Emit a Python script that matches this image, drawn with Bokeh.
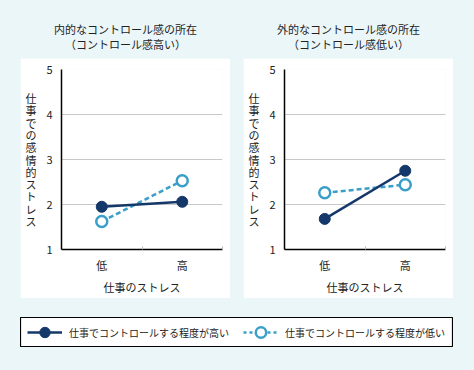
from bokeh.plotting import figure
from bokeh.layouts import column, row
from bokeh.models import (Spacer, Range1d, FixedTicker, Legend, LegendItem,
                          ColumnDataSource, Label)
from bokeh.embed import file_html
from bokeh.resources import INLINE

# ---- data ----
categories = ["低", "高"]
title_internal = ["内的なコントロール感の所在", "（コントロール感高い）"]
title_external = ["外的なコントロール感の所在", "（コントロール感低い）"]
internal_high_control = [1.95, 2.06]
internal_low_control = [1.62, 2.53]
external_high_control = [1.68, 2.75]
external_low_control = [2.26, 2.44]
y_ticks = [1, 2, 3, 4, 5]
series_names = ["仕事でコントロールする程度が高い", "仕事でコントロールする程度が低い"]
y_label = "仕事での感情的ストレス"
x_label = "仕事のストレス"

NAVY = "#15386A"
LIGHT = "#3A9FC8"
BG = "#EBF6F9"
FONT = "Noto Sans CJK JP"
TEXT = "#222222"


def title_fig(lines):
    t = figure(width=210, height=58, x_range=Range1d(0, 210), y_range=Range1d(58, 0),
               output_backend="svg", toolbar_location=None, min_border=0,
               border_fill_color=BG, background_fill_color=BG, outline_line_color=None)
    t.axis.visible = False
    t.grid.visible = False
    for i, ln in enumerate(lines):
        t.add_layout(Label(x=105, y=28 + 15 * i, text=ln, text_align="center",
                           text_baseline="middle", text_font=FONT,
                           text_font_size="11px", text_color=TEXT))
    return t


def panel(hi, lo):
    n = len(categories)
    xs = [2 * i + 1 for i in range(n)]
    p = figure(width=210, height=240, x_range=Range1d(0, 2 * n), y_range=Range1d(1, 5),
               output_backend="svg", toolbar_location=None,
               min_border_left=41, min_border_right=8, min_border_top=11, min_border_bottom=49,
               border_fill_color="white", background_fill_color="white",
               outline_line_color=None)
    p.xgrid.visible = False
    p.ygrid.ticker = FixedTicker(ticks=y_ticks[1:])
    p.ygrid.grid_line_color = "#C8C8C8"
    p.ygrid.grid_line_width = 1

    p.yaxis.ticker = FixedTicker(ticks=y_ticks)
    p.yaxis.major_tick_in = 0
    p.yaxis.major_tick_out = 0
    p.yaxis.minor_tick_in = 0
    p.yaxis.minor_tick_out = 0
    p.yaxis.major_label_standoff = 9
    p.yaxis.axis_label = "\n".join(y_label)
    p.yaxis.axis_label_orientation = "horizontal"
    p.yaxis.axis_label_standoff = 7

    p.xaxis.ticker = FixedTicker(ticks=xs, minor_ticks=[2 * i + 2 for i in range(n)])
    p.xaxis.major_label_overrides = {x: c for x, c in zip(xs, categories)}
    p.xaxis.major_tick_in = 0
    p.xaxis.major_tick_out = 0
    p.xaxis.minor_tick_in = 3
    p.xaxis.minor_tick_out = 0
    p.xaxis.minor_tick_line_color = "#BBBBBB"
    p.xaxis.major_label_standoff = 7
    p.xaxis.axis_label = x_label
    p.xaxis.axis_label_standoff = 3

    for ax in (p.xaxis, p.yaxis):
        ax.axis_line_color = "black"
        ax.axis_line_width = 1.5
        ax.major_label_text_font = FONT
        ax.major_label_text_font_size = "11px"
        ax.major_label_text_color = TEXT
        ax.axis_label_text_font = FONT
        ax.axis_label_text_font_size = "11px"
        ax.axis_label_text_font_style = "normal"
        ax.axis_label_text_color = TEXT
    p.yaxis.axis_label_text_line_height = 0.77

    p.line(xs, lo, color=LIGHT, line_width=2.5, line_dash="5 3")
    p.scatter(xs, lo, size=11, fill_color="white", line_color=LIGHT, line_width=2.5)
    p.line(xs, hi, color=NAVY, line_width=2.5)
    p.scatter(xs, hi, size=11, fill_color=NAVY, line_color=NAVY)
    return p


t1 = title_fig(title_internal)
t2 = title_fig(title_external)
p1 = panel(internal_high_control, internal_low_control)
p2 = panel(external_high_control, external_low_control)

leg = figure(width=433, height=30, x_range=Range1d(0, 1), y_range=Range1d(0, 1),
             output_backend="svg", toolbar_location=None, min_border=0,
             border_fill_color="white", background_fill_color="white",
             outline_line_color="black", outline_line_width=1.2)
leg.axis.visible = False
leg.grid.visible = False
# legend-only renderers: points kept outside the visible range
src = ColumnDataSource(data=dict(x=[-5, -4], y=[-5, -4]))
r1l = leg.line("x", "y", source=src, color=NAVY, line_width=2.5)
r1s = leg.scatter("x", "y", source=src, size=11, fill_color=NAVY, line_color=NAVY)
r2l = leg.line("x", "y", source=src, color=LIGHT, line_width=2.5, line_dash="3 3")
r2s = leg.scatter("x", "y", source=src, size=11, fill_color="white", line_color=LIGHT,
                  line_width=2.5)
legend = Legend(items=[LegendItem(label=series_names[0], renderers=[r1l, r1s]),
                       LegendItem(label=series_names[1], renderers=[r2l, r2s])],
                orientation="horizontal", location="left", margin=7, padding=0,
                glyph_width=35, glyph_height=26, label_standoff=7, spacing=14,
                label_text_font=FONT, label_text_font_size="10px",
                label_text_color=TEXT, label_height=14,
                border_line_color=None, background_fill_alpha=0)
leg.add_layout(legend, "center")

layout = column(
    row(Spacer(width=20, height=58), t1, Spacer(width=13, height=58), t2),
    row(Spacer(width=20, height=240), p1, Spacer(width=13, height=240), p2),
    Spacer(width=10, height=19),
    row(Spacer(width=20, height=30), leg),
)

html = file_html(layout, INLINE)
html = html.replace("<head>",
                    "<head><style>html,body{background:%s !important;margin:0 !important;}</style>" % BG, 1)
open("out.html", "w").write(html)
